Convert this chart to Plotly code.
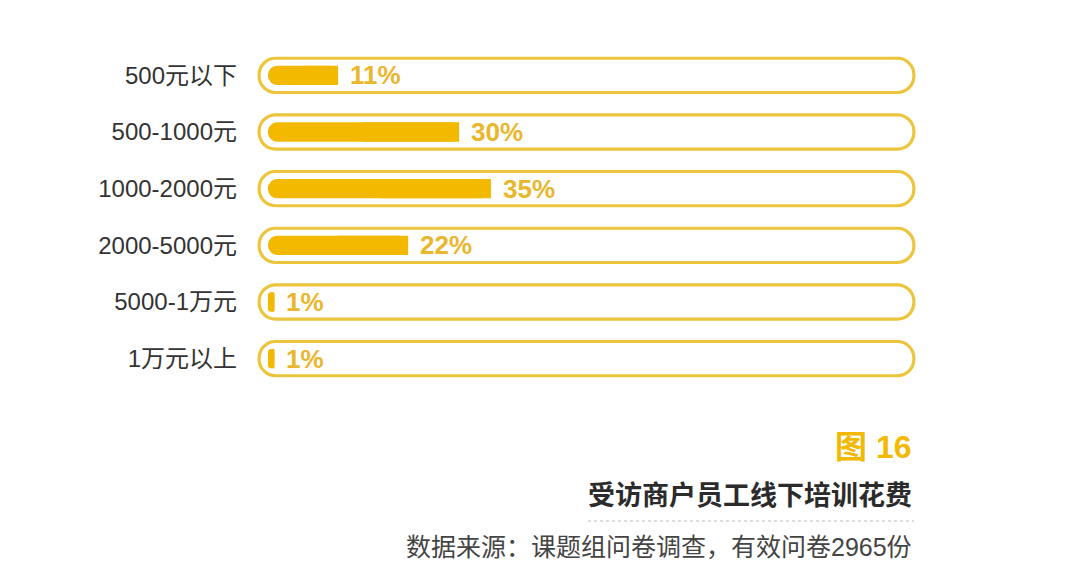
import plotly.graph_objects as go

# spending brackets and share of respondents (%)
categories = ["500元以下", "500-1000元", "1000-2000元", "2000-5000元", "5000-1万元", "1万元以上"]
shares = [11, 30, 35, 22, 1, 1]
labels = ["11%", "30%", "35%", "22%", "1%", "1%"]
track_max = 100

fig_no = "图 16"
title_text = "受访商户员工线下培训花费"
source_text = "数据来源：课题组问卷调查，有效问卷2965份"

YELLOW = "#F3B800"
OUTLINE = "#ECC53C"
LABEL = "#E9B62C"
FONT = "Liberation Sans, Noto Sans CJK SC"

n = len(categories)
fig = go.Figure()

# empty track: yellow capsule with a white capsule on top -> outline
fig.add_trace(go.Bar(y=categories, x=[track_max + 3.3] * n, base=[-1.65] * n, orientation="h", width=0.66,
                     marker=dict(color=OUTLINE, cornerradius="50%", line_width=0),
                     hoverinfo="skip", showlegend=False))
fig.add_trace(go.Bar(y=categories, x=[track_max + 2.3] * n, base=[-1.15] * n, orientation="h", width=0.55,
                     marker=dict(color="white", cornerradius="50%", line_width=0),
                     hoverinfo="skip", showlegend=False))

# value bars: drawn from the tip back to 0 so the left end gets rounded,
# then a square half on top of the right end
fig.add_trace(go.Bar(y=categories, x=[-v for v in shares], base=shares, orientation="h", width=0.34,
                     marker=dict(color=YELLOW, cornerradius="50%", line_width=0),
                     hoverinfo="skip", showlegend=False))
fig.add_trace(go.Bar(y=categories, x=[v / 2 for v in shares], base=[v / 2 for v in shares], orientation="h",
                     width=0.34, marker=dict(color=YELLOW, line_width=0),
                     hoverinfo="skip", showlegend=False))

for cat, v, lab in zip(categories, shares, labels):
    fig.add_annotation(x=v, y=cat, text=lab, showarrow=False, xanchor="left", xshift=10,
                       font=dict(family=FONT, size=26, color=LABEL, weight="bold"))

# footer block, right aligned under the bars
footer = [
    (fig_no, 447, 32, YELLOW, "bold"),
    (title_text, 496, 27, "#2b2b2b", "bold"),
    (source_text, 547, 25, "#444444", "normal"),
]
for txt, ypx, size, color, weight in footer:
    fig.add_annotation(x=(914 - 250) / 680, y=1 - (ypx - 47) / 340, xref="paper", yref="paper",
                       text=txt, showarrow=False, xanchor="right", yanchor="middle",
                       font=dict(family=FONT, size=size, color=color, weight=weight))

fig.add_shape(type="line", xref="paper", yref="paper",
              x0=(588 - 250) / 680, x1=(914 - 250) / 680,
              y0=1 - (521 - 47) / 340, y1=1 - (521 - 47) / 340,
              line=dict(color="#bbbbbb", width=1, dash="dot"))

fig.update_layout(
    width=1079, height=579,
    margin=dict(l=242, r=157, t=39, b=200),
    barmode="overlay",
    plot_bgcolor="white", paper_bgcolor="white",
    font=dict(family=FONT),
    xaxis=dict(range=[-2.83, 103.93], visible=False, fixedrange=True),
    yaxis=dict(autorange="reversed", showgrid=False, zeroline=False, ticks="", showline=False,
               ticklabelstandoff=12, tickfont=dict(family=FONT, size=24, color="#333333")),
)

fig.write_html("out.html")
